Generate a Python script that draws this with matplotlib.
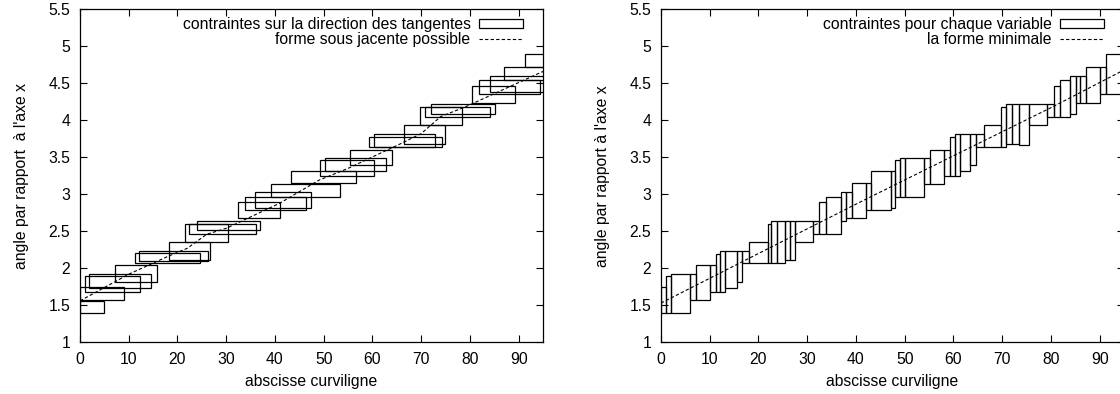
import matplotlib
matplotlib.use("Agg")
import matplotlib.pyplot as plt
import numpy as np

plt.rcParams["font.family"] = ["Liberation Sans", "DejaVu Sans"]
plt.rcParams["font.size"] = 11.3

# left panel: constraint boxes (x start, x end, y low, y high)
left_x0 = [0, 0, 1.0, 1.9, 7.1, 11.3, 12.1, 18.2, 21.6, 22.4, 24.0, 32.5, 33.8, 36.0, 39.1,
           43.2, 49.2, 50.2, 55.3, 59.4, 60.4, 66.4, 69.8, 70.7, 72.1, 80.5, 81.9, 84.1, 87.1, 91.4]
left_x1 = [5.0, 9.1, 12.3, 14.5, 15.9, 24.7, 26.2, 26.7, 30.3, 36.1, 37.0, 41.1, 46.3, 47.3, 53.3,
           56.7, 60.4, 62.7, 64.1, 74.2, 72.8, 74.9, 78.4, 84.2, 85.1, 89.2, 94.3, 98.0, 98.0, 98.0]
left_y0 = [1.39, 1.57, 1.68, 1.74, 1.81, 2.07, 2.10, 2.11, 2.35, 2.46, 2.52, 2.68, 2.79, 2.82, 2.96,
           3.15, 3.25, 3.32, 3.39, 3.64, 3.64, 3.68, 3.93, 4.04, 4.09, 4.24, 4.36, 4.38, 4.54, 4.72]
left_y1 = [1.56, 1.75, 1.89, 1.92, 2.04, 2.20, 2.24, 2.36, 2.60, 2.60, 2.64, 2.90, 2.96, 3.03, 3.14,
           3.32, 3.46, 3.49, 3.60, 3.77, 3.82, 3.93, 4.18, 4.18, 4.22, 4.46, 4.54, 4.60, 4.72, 4.90]

# left panel: underlying shape
left_line_x = [0, 10, 18, 22, 26, 30, 41, 49, 55, 66, 70, 74, 79, 87, 95]
left_line_y = [1.56, 1.92, 2.16, 2.27, 2.46, 2.54, 2.88, 3.19, 3.35, 3.69, 3.82, 4.05, 4.18, 4.42, 4.66]

# right panel: per-variable constraints
right_x0 = [0, 1.1, 2.1, 6.0, 7.2, 10.0, 11.3, 12.2, 13.2, 15.5, 16.7, 18.1, 21.9, 22.6, 23.9,
            25.4, 26.5, 27.5, 31.1, 32.5, 33.8, 36.9, 37.9, 39.1, 42.1, 43.1, 47.1, 48.1, 49.0,
            50.0, 54.0, 55.1, 58.0, 59.4, 60.3, 61.3, 63.4, 64.7, 66.2, 69.8, 70.8, 72.1, 73.4,
            75.6, 79.2, 80.6, 81.8, 84.0, 85.1, 86.0, 87.3, 90.0, 91.4]
right_x1 = right_x0[1:] + [98.0]
right_y0 = [1.39, 1.39, 1.39, 1.57, 1.57, 1.68, 1.68, 1.68, 1.74, 1.81, 2.07, 2.07, 2.07, 2.07, 2.07,
            2.11, 2.11, 2.35, 2.46, 2.46, 2.46, 2.64, 2.68, 2.68, 2.79, 2.79, 2.81, 2.96, 2.96,
            2.96, 3.14, 3.14, 3.25, 3.25, 3.25, 3.32, 3.39, 3.64, 3.64, 3.64, 3.68, 3.68, 3.67,
            3.93, 4.04, 4.04, 4.04, 4.09, 4.24, 4.24, 4.24, 4.36, 4.36]
right_y1 = [1.75, 1.90, 1.92, 1.92, 2.04, 2.04, 2.20, 2.24, 2.24, 2.24, 2.24, 2.36, 2.60, 2.64, 2.64,
            2.64, 2.64, 2.64, 2.64, 2.90, 2.96, 3.03, 3.03, 3.15, 3.15, 3.32, 3.32, 3.46, 3.49,
            3.49, 3.49, 3.60, 3.60, 3.77, 3.82, 3.82, 3.82, 3.82, 3.93, 4.18, 4.22, 4.22, 4.22,
            4.22, 4.22, 4.46, 4.54, 4.60, 4.60, 4.60, 4.72, 4.72, 4.90]

right_line_x = [0, 20, 41, 60, 80, 95]
right_line_y = [1.53, 2.20, 2.90, 3.52, 4.17, 4.68]

fig = plt.figure(figsize=(11.2, 3.94), dpi=100)
ax1 = fig.add_axes([80 / 1120, 1 - 342.3 / 394, 463 / 1120, 333 / 394])
ax2 = fig.add_axes([661 / 1120, 1 - 342.3 / 394, 463 / 1120, 333 / 394])


def draw(ax, x0, x1, y0, y1, lx, ly, box_label, line_label, ylabel):
    x0 = np.array(x0)
    x1 = np.array(x1)
    y0 = np.array(y0)
    y1 = np.array(y1)
    bars = ax.bar(x0, y1 - y0, width=x1 - x0, bottom=y0, align="edge", fill=False,
                  edgecolor="black", linewidth=0.9, label=box_label)
    line, = ax.plot(lx, ly, color="black", linestyle=(0, (3, 2)), linewidth=0.8,
                    label=line_label)
    ax.set_xlim(0, 95)
    ax.set_ylim(1, 5.5)
    ax.set_xticks(np.arange(0, 91, 10))
    ax.set_yticks(np.arange(1, 5.51, 0.5))
    ax.set_yticklabels(["1", "1.5", "2", "2.5", "3", "3.5", "4", "4.5", "5", "5.5"])
    ax.tick_params(direction="in", top=True, right=True, length=5, width=0.8, pad=7)
    for s in ax.spines.values():
        s.set_linewidth(0.9)
    ax.set_xlabel("abscisse curviligne", labelpad=5)
    ax.set_ylabel(ylabel, labelpad=14)
    ax.legend([bars, line], [box_label, line_label], loc="upper right", frameon=False,
              markerfirst=False, handlelength=2.8, handleheight=0.55, labelspacing=0.0,
              borderaxespad=0.2, borderpad=0.3, handletextpad=0.55,
              bbox_to_anchor=(1 - 12 / 463, 1.0))


draw(ax1, left_x0, left_x1, left_y0, left_y1, left_line_x, left_line_y,
     "contraintes sur la direction des tangentes", "forme sous jacente possible",
     "angle par rapport  à l'axe x")
draw(ax2, right_x0, right_x1, right_y0, right_y1, right_line_x, right_line_y,
     "contraintes pour chaque variable", "la forme minimale",
     "angle par rapport à l'axe x")

fig.savefig("out.png", dpi=100)
